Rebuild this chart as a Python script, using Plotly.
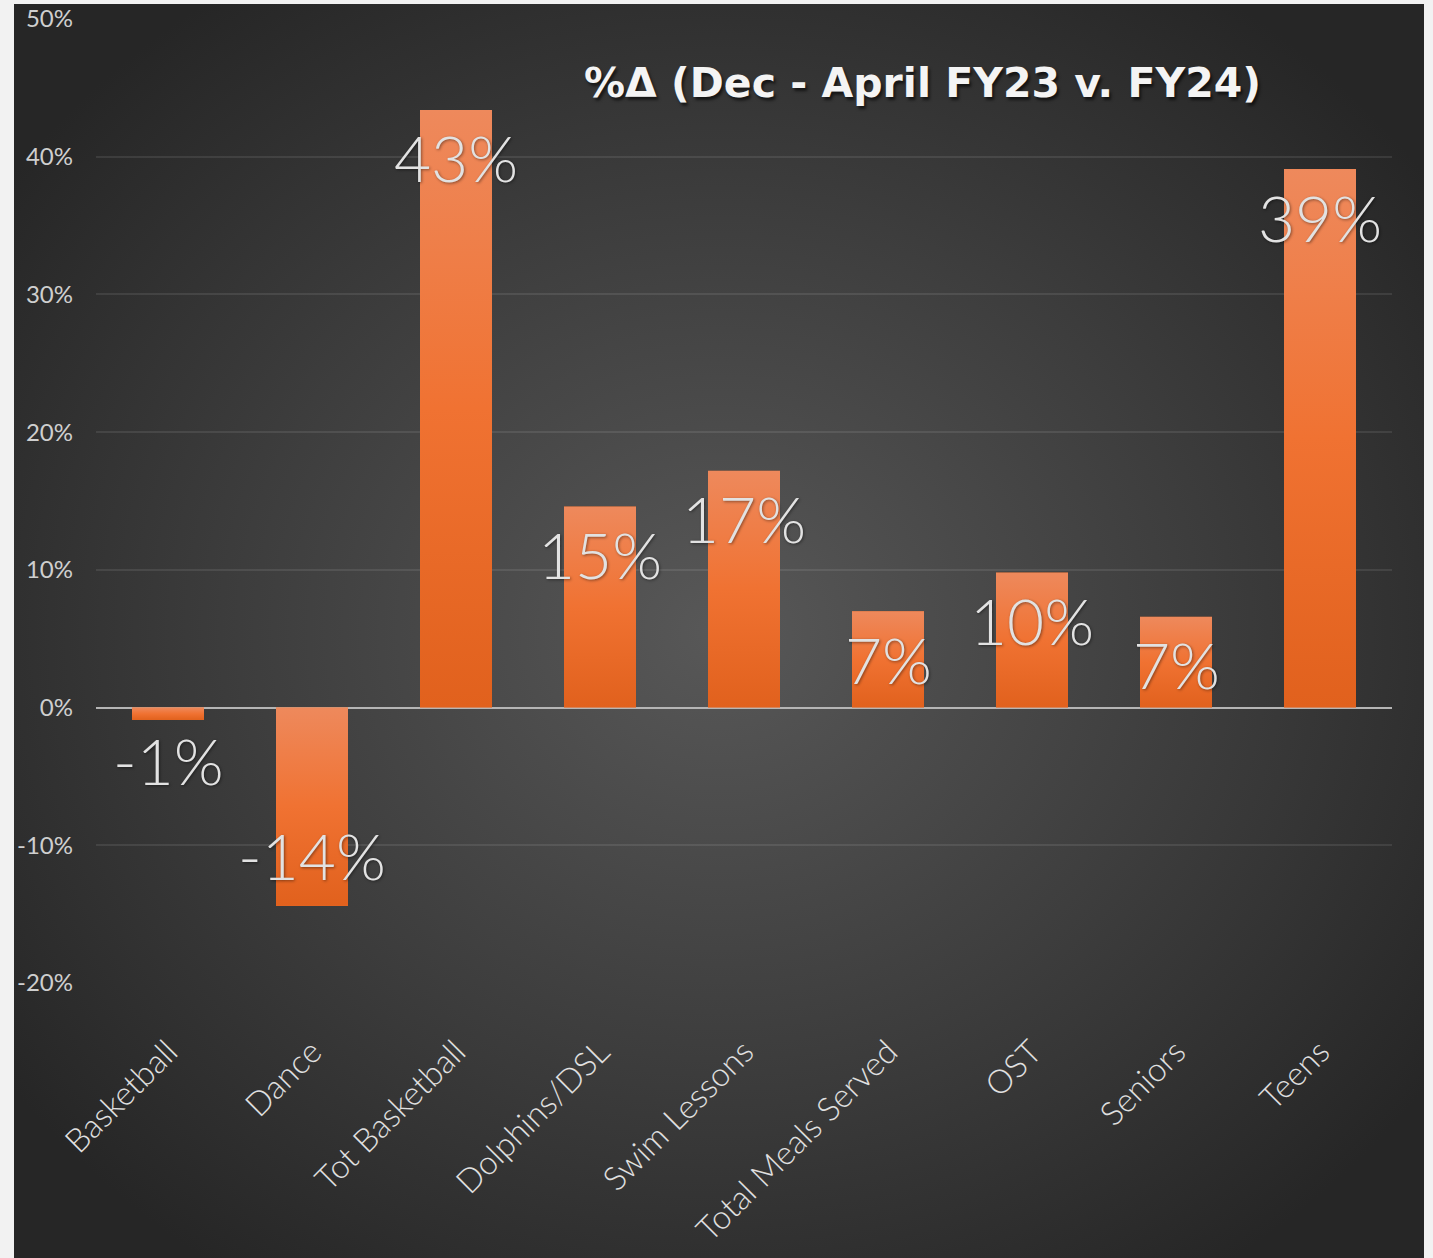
import base64
import plotly.graph_objects as go

categories = ["Basketball", "Dance", "Tot Basketball", "Dolphins/DSL", "Swim Lessons",
              "Total Meals Served", "OST", "Seniors", "Teens"]
pct_change = [-0.9, -14.4, 43.4, 14.6, 17.2, 7.0, 9.8, 6.6, 39.1]
value_labels = ["-1%", "-14%", "43%", "15%", "17%", "7%", "10%", "7%", "39%"]
y_tick_vals = [-20, -10, 0, 10, 20, 30, 40, 50]
y_tick_text = ["-20%", "-10%", "0%", "10%", "20%", "30%", "40%", "50%"]
title_text = "%Δ (Dec - April FY23 v. FY24)"

W, H = 1433, 1258
ML, MR, MT, MB = 96, 41, 19, 275
PW, PH = W - ML - MR, H - MT - MB
BAR_W = 0.5


def data_uri(svg):
    return "data:image/svg+xml;base64," + base64.b64encode(svg.encode()).decode()


# background panel (radial gradient)
bg_svg = ('<svg xmlns="http://www.w3.org/2000/svg" width="1410" height="1254" viewBox="0 0 1410 1254" '
          'preserveAspectRatio="none"><defs><radialGradient id="g" cx="0.5" cy="0.5" r="0.62">'
          '<stop offset="0" stop-color="#585858"/><stop offset="0.55" stop-color="#3d3d3d"/>'
          '<stop offset="1" stop-color="#262626"/></radialGradient></defs>'
          '<rect width="1410" height="1254" fill="url(#g)"/></svg>')
# vertical gradient used as bar fill
bar_svg = ('<svg xmlns="http://www.w3.org/2000/svg" width="10" height="100" viewBox="0 0 10 100" '
           'preserveAspectRatio="none"><defs><linearGradient id="b" x1="0" y1="0" x2="0" y2="1">'
           '<stop offset="0" stop-color="#ee895c"/><stop offset="0.5" stop-color="#f07232"/>'
           '<stop offset="1" stop-color="#e1611d"/></linearGradient></defs>'
           '<rect width="10" height="100" fill="url(#b)"/></svg>')

px0, px1, py0, py1 = 14, 1424, 4, 1258
images = [dict(source=data_uri(bg_svg), xref="paper", yref="paper",
               x=(px0 - ML) / PW, y=(H - MB - py0) / PH,
               sizex=(px1 - px0) / PW, sizey=(py1 - py0) / PH,
               xanchor="left", yanchor="top", sizing="stretch", layer="below")]
bar_uri = data_uri(bar_svg)
for i, v in enumerate(pct_change):
    images.append(dict(source=bar_uri, xref="x", yref="y",
                       x=i - BAR_W / 2, y=max(v, 0), sizex=BAR_W, sizey=abs(v),
                       xanchor="left", yanchor="top", sizing="stretch", layer="above"))

fig = go.Figure()
fig.add_trace(go.Bar(
    x=categories, y=pct_change, width=BAR_W,
    marker=dict(color="#ee7434", line=dict(width=0)),
    hoverinfo="skip",
))

annotations = []
for c, v, t in zip(categories, pct_change, value_labels):
    if v >= 0:
        shift = -48
    elif v < -5:
        shift = 50
    else:
        shift = -41
    annotations.append(dict(
        x=c, y=v, text=t, showarrow=False, yshift=shift, xanchor="center", yanchor="middle",
        font=dict(family="Lato", size=64, weight=300, color="#e2e2e2",
                  shadow="1px 1px 3px rgba(0,0,0,0.45)"),
    ))

annotations.append(dict(
    x=(922 - ML) / PW, y=(H - MB - 83) / PH, xref="paper", yref="paper",
    text=title_text, showarrow=False, xanchor="center", yanchor="middle",
    font=dict(family="DejaVu Sans", size=41, weight=700, color="#f4f4f4",
              shadow="2px 3px 3px rgba(0,0,0,0.6)"),
))

fig.update_layout(
    width=W, height=H,
    margin=dict(l=ML, r=MR, t=MT, b=MB, autoexpand=False),
    paper_bgcolor="#f2f2f2",
    plot_bgcolor="rgba(0,0,0,0)",
    images=images,
    annotations=annotations,
    showlegend=False,
    xaxis=dict(
        tickangle=-45, tickfont=dict(family="Lato", size=33, weight=300, color="#e0e0e0"),
        showgrid=False, showline=False, ticks="", ticklabelstandoff=42,
        automargin=False, fixedrange=True,
    ),
    yaxis=dict(
        range=[-20, 50], tickvals=y_tick_vals, ticktext=y_tick_text,
        tickfont=dict(family="Lato", size=24, color="#cfcfcf"),
        showgrid=True, gridcolor="rgba(255,255,255,0.09)", gridwidth=2,
        zeroline=True, zerolinecolor="#b5b5b5", zerolinewidth=2,
        showline=False, ticks="", ticklabelstandoff=22, automargin=False, fixedrange=True,
    ),
)

fig.write_html(
    "out.html",
    config={"displayModeBar": False},
    post_script="document.body.style.margin='0';document.body.style.background='#f2f2f2';",
)
